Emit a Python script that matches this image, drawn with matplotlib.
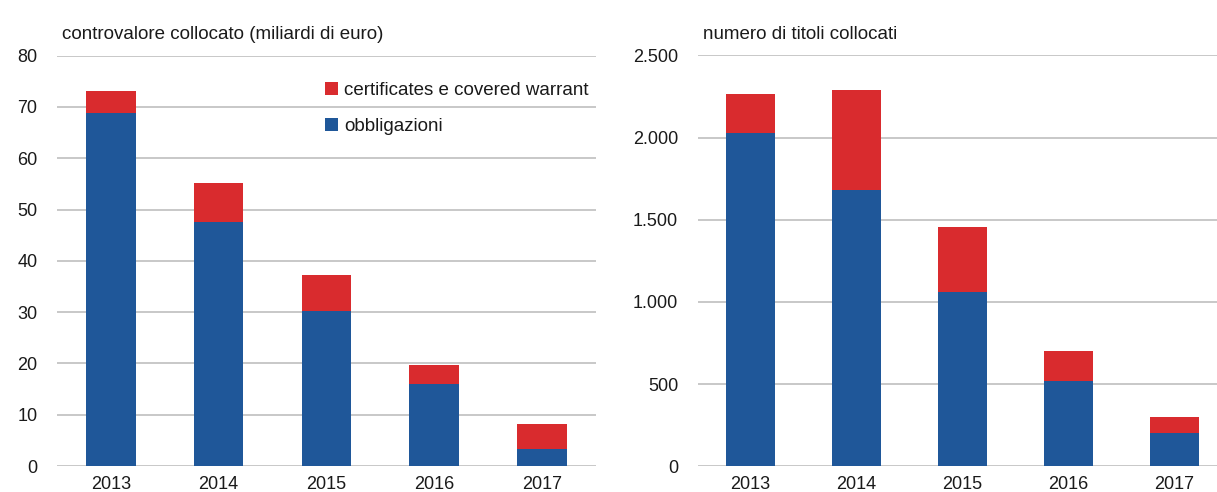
import matplotlib.pyplot as plt
from matplotlib.ticker import FuncFormatter

plt.switch_backend('agg')
plt.rcParams['font.family'] = ['Liberation Sans Narrow', 'Liberation Sans', 'DejaVu Sans']

years = ['2013', '2014', '2015', '2016', '2017']

# controvalore collocato (miliardi di euro)
val_obbl = [68.9, 47.5, 30.2, 15.9, 3.4]
val_cert = [4.2, 7.6, 7.1, 3.7, 4.7]

# numero di titoli collocati
num_obbl = [2025, 1681, 1062, 517, 201]
num_cert = [240, 608, 392, 186, 101]

blue = '#1f5799'
red = '#d92b2e'
grid_col = '#c8c8c8'
txt_col = '#1a1a1a'

fig = plt.figure(figsize=(12.17, 4.92), dpi=100)
ax1 = fig.add_axes([0.0468, 0.0528, 0.4429, 0.834])
ax2 = fig.add_axes([0.5732, 0.0522, 0.4268, 0.8354])


def style(ax):
    for s in ax.spines.values():
        s.set_visible(False)
    ax.grid(axis='y', color=grid_col, linewidth=1.4)
    ax.set_axisbelow(True)
    ax.tick_params(length=0, labelsize=13, colors=txt_col)
    ax.tick_params(axis='y', pad=14)
    # year labels sit right at the bottom edge, keep them inside the figure
    ax.tick_params(axis='x', pad=7)


x = range(len(years))
ax1.bar(x, val_obbl, width=0.46, color=blue, label='obbligazioni')
ax1.bar(x, val_cert, width=0.46, bottom=val_obbl, color=red,
        label='certificates e covered warrant')
ax1.set_xlim(-0.5, 4.5)
ax1.set_ylim(0, 80)
ax1.set_yticks(range(0, 81, 10))
ax1.set_xticks(list(x))
ax1.set_xticklabels(years)
style(ax1)
ax1.text(0.01, 1.03, 'controvalore collocato (miliardi di euro)', transform=ax1.transAxes,
         fontsize=13.5, color=txt_col, ha='left', va='bottom')
h, l = ax1.get_legend_handles_labels()
leg = ax1.legend(h[::-1], l[::-1], loc='upper right', bbox_to_anchor=(1.0, 0.955),
                 frameon=False, fontsize=13.5, handlelength=0.7, handleheight=0.7,
                 handletextpad=0.3, labelspacing=1.0, borderaxespad=0.0)
for t in leg.get_texts():
    t.set_color(txt_col)

ax2.bar(x, num_obbl, width=0.46, color=blue)
ax2.bar(x, num_cert, width=0.46, bottom=num_obbl, color=red)
ax2.set_xlim(-0.5, 4.4)
ax2.set_ylim(0, 2500)
ax2.set_yticks(range(0, 2501, 500))
ax2.yaxis.set_major_formatter(FuncFormatter(lambda v, p: f'{int(v):,}'.replace(',', '.')))
ax2.set_xticks(list(x))
ax2.set_xticklabels(years)
style(ax2)
ax2.text(0.01, 1.03, 'numero di titoli collocati', transform=ax2.transAxes,
         fontsize=13.5, color=txt_col, ha='left', va='bottom')

fig.savefig('out.png', dpi=100)
plt.close(fig)
